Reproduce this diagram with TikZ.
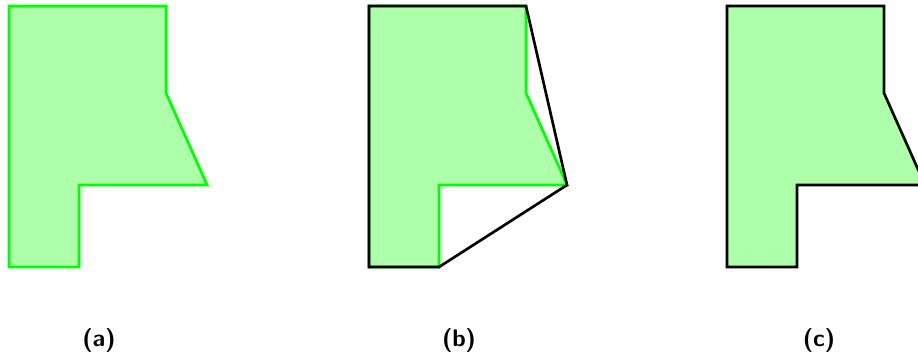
\documentclass[tikz,border=0pt]{standalone}
\usepackage{tikz}
\definecolor{fillgreen}{HTML}{AEFFAA}
\definecolor{edgegreen}{HTML}{00FF00}

\begin{document}
\begin{tikzpicture}[x=0.75pt,y=-0.75pt,
        shapefill/.style={fill=fillgreen,line width=2pt,line join=miter},
        greenedge/.style={shapefill,draw=edgegreen},
        hulledge/.style={draw=black,line width=2pt,line join=miter},
        caption/.style={font=\fontsize{18}{20}\selectfont\sffamily\bfseries}
    ]
      \clip (0,0) rectangle (918,358);
      % (a) the polygon
      \draw[greenedge] (9,6) -- (166,6) -- (166,93) -- (207,185) -- (79,185) -- (79,267) -- (9,267) -- cycle;
      % (b) polygon and its hull
      \draw[greenedge] (369,6) -- (526,6) -- (526,93) -- (567,185) -- (439,185) -- (439,267) -- (369,267) -- cycle;
      \draw[hulledge] (369,6) -- (526,6) -- (567,185) -- (439,267) -- (369,267) -- cycle;
      % (c) result
      \draw[shapefill,draw=black] (727,6) -- (884,6) -- (884,93) -- (925,185) -- (797,185) -- (797,267) -- (727,267) -- cycle;
      \node[caption] (capa) at (99,340) {(a)};
      \node[caption] (capb) at (459,340) {(b)};
      \node[caption] (capc) at (819,340) {(c)};
    \end{tikzpicture}
\end{document}
